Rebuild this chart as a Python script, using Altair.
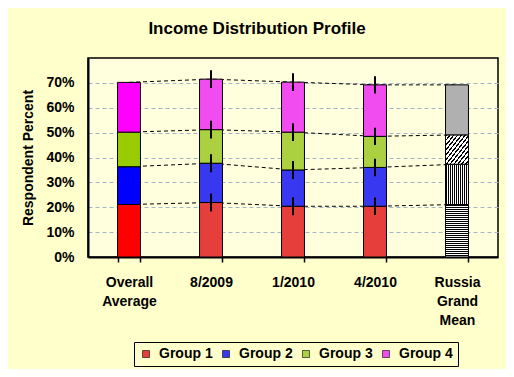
import altair as alt
import pandas as pd

# ---- data ----
categories = ["Overall Average", "8/2009", "1/2010", "4/2010", "Russia Grand Mean"]
groups = ["Group 1", "Group 2", "Group 3", "Group 4"]
group1 = [21.1, 21.9, 20.4, 20.4, 21.1]
group2 = [15.2, 15.8, 14.6, 15.6, 16.2]
group3 = [13.9, 13.5, 15.2, 12.5, 11.8]
group4 = [20.0, 20.3, 20.1, 20.7, 20.1]
errors = [0.0, 3.6, 3.6, 3.5, 0.0]
y_ticks = [0, 10, 20, 30, 40, 50, 60, 70]

# ---- styles ----
FONT = "Liberation Sans, Arial, sans-serif"
solid_colors = ["#FF0000", "#0000FF", "#99CC00", "#FF00FF"]
dotted_colors = ["#E63E3B", "#3838F0", "#ABD040", "#F04CF0"]


def stripes(n, dark=0.5, x2=0, y2=1):
    stops = []
    for i in range(n):
        a = i / n
        b = (i + dark) / n
        c = (i + 1) / n
        stops += [
            alt.GradientStop(offset=a, color="black"),
            alt.GradientStop(offset=b, color="black"),
            alt.GradientStop(offset=b, color="white"),
            alt.GradientStop(offset=c, color="white"),
        ]
    return alt.Gradient(gradient="linear", stops=stops, x1=0, y1=0, x2=x2, y2=y2)


russia_fills = [
    stripes(26, 0.5, x2=0, y2=1),   # horizontal lines
    stripes(11, 0.5, x2=1, y2=0),   # vertical lines
    stripes(12, 0.4, x2=1, y2=1),   # diagonal hatch
    "#B0B0B0",                      # dense checker
]

rows = []
for ci, c in enumerate(categories):
    for gi, vals in enumerate([group1, group2, group3, group4]):
        rows.append({"category": c, "group": groups[gi], "gidx": gi,
                     "value": vals[ci], "err": errors[ci]})
df = pd.DataFrame(rows)

base = alt.Chart(df).transform_window(
    top="sum(value)", groupby=["category"],
    sort=[alt.SortField("gidx")], frame=[None, 0]
).transform_calculate(bottom="datum.top - datum.value")

X = alt.X(
    "category:N", sort=categories, title=None,
    scale=alt.Scale(paddingInner=0.72, paddingOuter=0.36),
    axis=alt.Axis(labelExpr="split(datum.label, ' ')", labelAngle=0,
                  labelFont=FONT, labelFontSize=14, labelFontWeight="bold",
                  labelColor="black", labelLineHeight=19, labelPadding=13,
                  labelBaseline="top",
                  tickBand="extent", tickSize=5, tickColor="black", tickWidth=1.5,
                  domainColor="black", domainWidth=2, grid=False),
)
Y_AXIS = alt.Axis(values=y_ticks, labelExpr="datum.value + '%'",
                  labelFont=FONT, labelFontSize=14, labelFontWeight="bold",
                  labelColor="black", labelPadding=14, ticks=False,
                  domainColor="black", domainWidth=2,
                  grid=True, gridColor="#A3B6C8", gridDash=[4, 3], gridWidth=1,
                  titleFont=FONT, titleFontSize=14, titleFontWeight="bold",
                  titleColor="black", titlePadding=10)
Y = alt.Y("top:Q", title="Respondent Percent",
          scale=alt.Scale(domain=[0, 80], nice=False), axis=Y_AXIS)

lines = base.mark_line(color="black", strokeDash=[4, 3], strokeWidth=1).encode(
    x=X, y=Y, detail="group:N")

middle = base.transform_filter(
    alt.FieldOneOfPredicate(field="category", oneOf=categories[1:4])
).mark_bar(stroke="black", strokeWidth=1).encode(
    x=X, y=Y, y2="bottom:Q",
    color=alt.Color("group:N", scale=alt.Scale(domain=groups, range=dotted_colors),
                    legend=alt.Legend(title=None, orient="none", legendX=46, legendY=284,
                                      direction="horizontal", symbolType="square",
                                      symbolSize=49, symbolStrokeColor="black",
                                      symbolStrokeWidth=0.6, symbolOpacity=1,
                                      labelFont=FONT, labelFontSize=14,
                                      labelFontWeight="bold", labelColor="black",
                                      labelOffset=6, columnPadding=6, padding=5,
                                      strokeColor="black", fillColor="#FFFFCC")),
)

solid_layers = []
russia_layers = []
for gi, g in enumerate(groups):
    solid_layers.append(
        base.transform_filter(
            (alt.datum.category == categories[0]) & (alt.datum.group == g)
        ).mark_bar(fill=solid_colors[gi], stroke="black", strokeWidth=1).encode(
            x=X, y=Y, y2="bottom:Q")
    )
    russia_layers.append(
        base.transform_filter(
            (alt.datum.category == categories[4]) & (alt.datum.group == g)
        ).mark_bar(fill=russia_fills[gi], stroke="black", strokeWidth=1).encode(
            x=X, y=Y, y2="bottom:Q")
    )

errbars = base.transform_filter(alt.datum.err > 0).transform_calculate(
    lo="datum.top - datum.err", hi="datum.top + datum.err"
).mark_rule(color="black", strokeWidth=2).encode(
    x=X, y=alt.Y("lo:Q", scale=alt.Scale(domain=[0, 80], nice=False), axis=Y_AXIS,
                 title="Respondent Percent"),
    y2="hi:Q")

chart = alt.layer(lines, middle, *solid_layers, *russia_layers, errbars).properties(
    width=410, height=199,
    autosize=alt.AutoSizeParams(type="none"),
    padding={"left": 80, "top": 50, "right": 8, "bottom": 112},
    background="#FFFFCC",
    title=alt.TitleParams("Income Distribution Profile", font=FONT, fontSize=17,
                          fontWeight="bold", color="black", anchor="middle",
                          dx=-36, offset=20),
).configure_view(fill="#FFFFDD", stroke="black", strokeWidth=1.5)

chart.save("out.html", embed_options={"renderer": "svg", "actions": False})
